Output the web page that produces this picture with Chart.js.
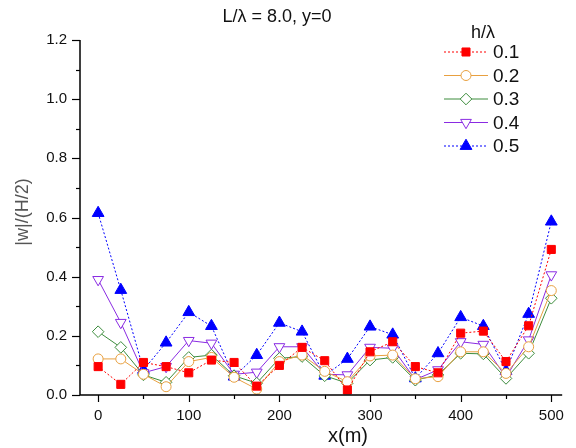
<!DOCTYPE html>
<html>
<head>
<meta charset="utf-8">
<script src="https://cdn.jsdelivr.net/npm/chart.js@4.4.1/dist/chart.umd.min.js"></script>
<style>
  html, body { margin: 0; padding: 0; background: #ffffff; overflow: hidden; }
  #wrap { position: relative; width: 576px; height: 448px; }
</style>
</head>
<body>
<div id="wrap"><canvas id="c" width="576" height="448"></canvas></div>
<script>
// Positions along the line (m)
const xPositions = [0, 25, 50, 75, 100, 125, 150, 175, 200, 225, 250, 275, 300, 325, 350, 375, 400, 425, 450, 475, 500];

// Normalised vertical displacement |w|/(H/2) for each h/λ
const h01 = [0.096, 0.036, 0.110, 0.096, 0.075, 0.118, 0.110, 0.030, 0.100, 0.161, 0.116, 0.017, 0.146, 0.180, 0.096, 0.075, 0.209, 0.216, 0.113, 0.234, 0.492];
const h02 = [0.122, 0.122, 0.070, 0.028, 0.113, 0.127, 0.060, 0.020, 0.113, 0.135, 0.080, 0.045, 0.132, 0.135, 0.055, 0.062, 0.146, 0.146, 0.073, 0.163, 0.353];
const h03 = [0.214, 0.161, 0.068, 0.043, 0.127, 0.135, 0.065, 0.040, 0.124, 0.130, 0.065, 0.040, 0.118, 0.127, 0.050, 0.068, 0.141, 0.139, 0.056, 0.141, 0.327];
const h04 = [0.390, 0.245, 0.075, 0.096, 0.184, 0.175, 0.070, 0.077, 0.163, 0.163, 0.070, 0.068, 0.161, 0.158, 0.052, 0.085, 0.180, 0.171, 0.060, 0.186, 0.406];
const h05 = [0.615, 0.355, 0.085, 0.177, 0.280, 0.233, 0.062, 0.135, 0.244, 0.214, 0.065, 0.122, 0.231, 0.204, 0.056, 0.141, 0.263, 0.233, 0.081, 0.274, 0.586];

const seriesLabels = ['0.1', '0.2', '0.3', '0.4', '0.5'];
const xTicks = [0, 100, 200, 300, 400, 500];
const yTicks = [0.0, 0.2, 0.4, 0.6, 0.8, 1.0, 1.2];

const titleText = 'L/\u03bb = 8.0, y=0';
const legendTitle = 'h/\u03bb';
const xTitle = 'x(m)';
const yTitle = '|w|/(H/2)';

const FONT = '"Liberation Sans", Arial, sans-serif';

function pts(vals) { return xPositions.map((x, i) => ({ x: x, y: vals[i] })); }

const styles = [
  { color: '#ff0000', fill: '#ff0000', style: 'rect', radius: 5.7, rot: 0, dash: [2, 2] },
  { color: '#e8a040', fill: '#ffffff', style: 'circle', radius: 5, rot: 0, dash: [] },
  { color: '#3c8c3c', fill: '#ffffff', style: 'rectRot', radius: 5.8, rot: 0, dash: [] },
  { color: '#8a2be2', fill: '#ffffff', style: 'triangle', radius: 6.2, rot: 180, dash: [] },
  { color: '#0000ff', fill: '#0000ff', style: 'triangle', radius: 6.8, rot: 0, dash: [2, 2] }
];
const seriesValues = [h01, h02, h03, h04, h05];

const datasets = seriesValues.map((vals, i) => ({
  label: seriesLabels[i],
  data: pts(vals),
  borderColor: styles[i].color,
  backgroundColor: styles[i].fill,
  borderWidth: 1,
  borderDash: styles[i].dash,
  pointStyle: styles[i].style,
  pointRotation: styles[i].rot,
  pointRadius: styles[i].radius,
  pointHoverRadius: styles[i].radius,
  pointBorderColor: styles[i].color,
  pointBackgroundColor: styles[i].fill,
  pointBorderWidth: 1,
  tension: 0
}));

// Axis lines, major/minor ticks, titles and legend
const decorations = {
  id: 'decorations',
  afterDraw(chart) {
    const ctx = chart.ctx;
    const xs = chart.scales.x, ys = chart.scales.y;
    const area = chart.chartArea;
    ctx.save();
    ctx.strokeStyle = '#000';
    ctx.lineWidth = 1.5;
    ctx.setLineDash([]);
    // axis lines
    ctx.beginPath();
    ctx.moveTo(area.left, ys.getPixelForValue(1.2));
    ctx.lineTo(area.left, area.bottom);
    ctx.lineTo(area.right, area.bottom);
    ctx.stroke();
    // y ticks
    ctx.lineWidth = 1.2;
    for (let k = 0; k <= 12; k++) {
      const v = k / 10;
      const py = Math.round(ys.getPixelForValue(v)) + 0.5;
      const len = (k % 2 === 0) ? 8 : 4;
      ctx.beginPath();
      ctx.moveTo(area.left - len, py);
      ctx.lineTo(area.left, py);
      ctx.stroke();
    }
    // x ticks
    for (let v = 0; v <= 500; v += 50) {
      const px = Math.round(xs.getPixelForValue(v)) + 0.5;
      const len = (v % 100 === 0) ? 7 : 4;
      ctx.beginPath();
      ctx.moveTo(px, area.bottom);
      ctx.lineTo(px, area.bottom + len);
      ctx.stroke();
    }
    // titles
    ctx.fillStyle = '#111';
    ctx.textAlign = 'center';
    ctx.textBaseline = 'middle';
    ctx.font = '18px ' + FONT;
    ctx.fillText(titleText, 277, 17);
    ctx.font = '20px ' + FONT;
    ctx.fillText(xTitle, 348, 436);
    ctx.save();
    ctx.translate(23, 212);
    ctx.rotate(-Math.PI / 2);
    ctx.font = '18px ' + FONT;
    ctx.fillStyle = '#555';
    ctx.fillText(yTitle, 0, 0);
    ctx.restore();
    // legend
    ctx.font = '18px ' + FONT;
    ctx.fillStyle = '#111';
    ctx.fillText(legendTitle, 483, 33);
    const rowY0 = 52, rowStep = 23.5, x0 = 444, x1 = 488, xm = 466;
    chart.data.datasets.forEach((ds, i) => {
      const y = rowY0 + i * rowStep;
      ctx.strokeStyle = ds.borderColor;
      ctx.lineWidth = 1;
      ctx.setLineDash(ds.borderDash || []);
      ctx.beginPath();
      ctx.moveTo(x0, y);
      ctx.lineTo(x1, y);
      ctx.stroke();
      ctx.setLineDash([]);
      ctx.fillStyle = ds.pointBackgroundColor;
      ctx.strokeStyle = ds.pointBorderColor;
      ctx.beginPath();
      Chart.helpers.drawPoint(ctx, {
        pointStyle: ds.pointStyle,
        rotation: ds.pointRotation,
        radius: ds.pointRadius,
        borderWidth: 1
      }, xm, y);
      ctx.fillStyle = '#111';
      ctx.textAlign = 'left';
      ctx.font = '19px ' + FONT;
      ctx.fillText(ds.label, 493, y + 1);
    });
    ctx.restore();
  }
};

new Chart(document.getElementById('c'), {
  type: 'line',
  data: { datasets: datasets },
  options: {
    responsive: false,
    animation: false,
    events: [],
    layout: { padding: { top: 40, right: 0, bottom: 0, left: 0 } },
    plugins: { legend: { display: false }, title: { display: false }, tooltip: { enabled: false } },
    scales: {
      x: {
        type: 'linear',
        min: -20,
        max: 512,
        afterFit(s) { s.height = 53; },
        afterBuildTicks(s) { s.ticks = xTicks.map(v => ({ value: v })); },
        grid: { display: false, drawTicks: false },
        border: { display: false },
        ticks: {
          padding: 12,
          color: '#111',
          font: { family: FONT, size: 15 },
          callback: v => String(v)
        }
      },
      y: {
        type: 'linear',
        min: 0,
        max: 1.2,
        afterFit(s) { s.width = 80; },
        afterBuildTicks(s) { s.ticks = yTicks.map(v => ({ value: v })); },
        grid: { display: false, drawTicks: false },
        border: { display: false },
        ticks: {
          padding: 13,
          color: '#111',
          font: { family: FONT, size: 15 },
          callback: v => Number(v).toFixed(1)
        }
      }
    }
  },
  plugins: [decorations]
});
</script>
</body>
</html>
